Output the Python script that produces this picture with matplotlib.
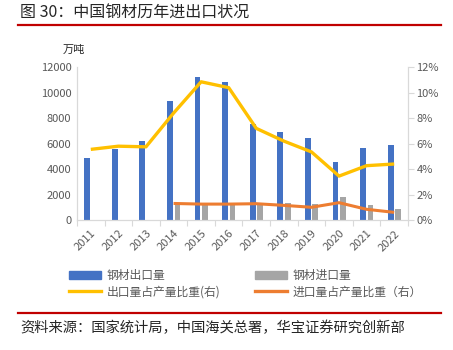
import numpy as np
import matplotlib.pyplot as plt
from matplotlib.lines import Line2D
from matplotlib.patches import Patch

plt.rcParams['font.family'] = ['Noto Sans CJK SC', 'DejaVu Sans']

years = ['2011', '2012', '2013', '2014', '2015', '2016', '2017', '2018', '2019', '2020', '2021', '2022']
export_vol = [4880, 5580, 6210, 9340, 11240, 10860, 7540, 6940, 6420, 4560, 5650, 5890]
import_vol = [None, None, None, 1310, 1280, 1320, 1330, 1310, 1230, 1800, 1150, 840]
export_ratio = [5.55, 5.8, 5.75, 8.4, 10.86, 10.4, 7.2, 6.2, 5.35, 3.45, 4.27, 4.4]
import_ratio = [None, None, None, 1.3, 1.25, 1.25, 1.28, 1.15, 1.0, 1.36, 0.84, 0.6]

c_blue = '#4472C4'
c_gray = '#A5A5A5'
c_yellow = '#FFC000'
c_orange = '#ED7D31'
c_text = '#595959'
c_axis = '#D9D9D9'

fig = plt.figure(figsize=(4.53, 3.5), dpi=100)

# title and red rules
fig.text(20 / 453, 1 - 13 / 350, '图 30：中国钢材历年进出口状况', fontsize=11.5, color='#262626',
         va='center', ha='left')
fig.add_artist(Line2D([18 / 453, 441 / 453], [1 - 25 / 350, 1 - 25 / 350], color='#C00000', lw=1.6))
fig.add_artist(Line2D([18 / 453, 441 / 453], [1 - 313 / 350, 1 - 313 / 350], color='#C00000', lw=1.6))
fig.text(20 / 453, 1 - 328 / 350, '资料来源：国家统计局，中国海关总署，华宝证券研究创新部', fontsize=10.3,
         color='#262626', va='center', ha='left')

ax = fig.add_axes([77 / 453, 1 - 220 / 350, 331 / 453, 152.7 / 350])
ax2 = ax.twinx()

x = np.arange(len(years))
imp_x = [i for i, v in enumerate(import_vol) if v is not None]
imp_v = [v for v in import_vol if v is not None]
ax.bar(x - 0.13, export_vol, width=0.21, color=c_blue, zorder=2)
ax.bar(np.array(imp_x) + 0.14, imp_v, width=0.21, color=c_gray, zorder=2)

ax2.plot(x, export_ratio, color=c_yellow, lw=2.4, solid_capstyle='butt', zorder=3)
ir_x = [i for i, v in enumerate(import_ratio) if v is not None]
ir_v = [v for v in import_ratio if v is not None]
ax2.plot(ir_x, ir_v, color=c_orange, lw=2.2, solid_capstyle='butt', zorder=3)

ax.set_xlim(-0.5, len(years) - 0.5)
ax.set_ylim(0, 12000)
ax.set_yticks(np.arange(0, 12001, 2000))
ax2.set_ylim(0, 12)
ax2.set_yticks(np.arange(0, 13, 2))
ax2.set_yticklabels([f'{v}%' for v in range(0, 13, 2)])

ax.set_xticks(x)
ax.set_xticklabels(years, rotation=45, ha='right', rotation_mode='anchor')
ax.set_xticks(np.arange(-0.5, len(years), 1), minor=True)
ax.tick_params(axis='x', which='major', length=0, pad=6, labelsize=8, labelcolor=c_text)
ax.tick_params(axis='x', which='minor', length=4, color=c_axis, width=0.8)
ax.tick_params(axis='y', length=0, labelsize=8, labelcolor=c_text, pad=4)
ax2.tick_params(axis='y', length=4, color=c_axis, width=0.8, labelsize=8, labelcolor=c_text, pad=2)

for a in (ax, ax2):
    a.spines['top'].set_visible(False)
    for s in ('left', 'right', 'bottom'):
        a.spines[s].set_color(c_axis)
        a.spines[s].set_linewidth(0.8)
ax.patch.set_visible(False)

fig.text(63 / 453, 1 - 50 / 350, '万吨', fontsize=8, color='#262626', va='center', ha='left')

handles = [Patch(color=c_blue), Line2D([], [], color=c_yellow, lw=2.4),
           Patch(color=c_gray), Line2D([], [], color=c_orange, lw=2.4)]
labels = ['钢材出口量', '出口量占产量比重(右)', '钢材进口量', '进口量占产量比重（右）']
fig.legend(handles, labels, ncol=2, loc='upper left', bbox_to_anchor=(69 / 453, 1 - 269 / 350),
           frameon=False, fontsize=8.5, labelcolor=c_text, handlelength=2.7, handleheight=0.75,
           handletextpad=0.5, columnspacing=2.9, labelspacing=0.3, borderaxespad=0, borderpad=0)

fig.savefig('out.png', dpi=100)
